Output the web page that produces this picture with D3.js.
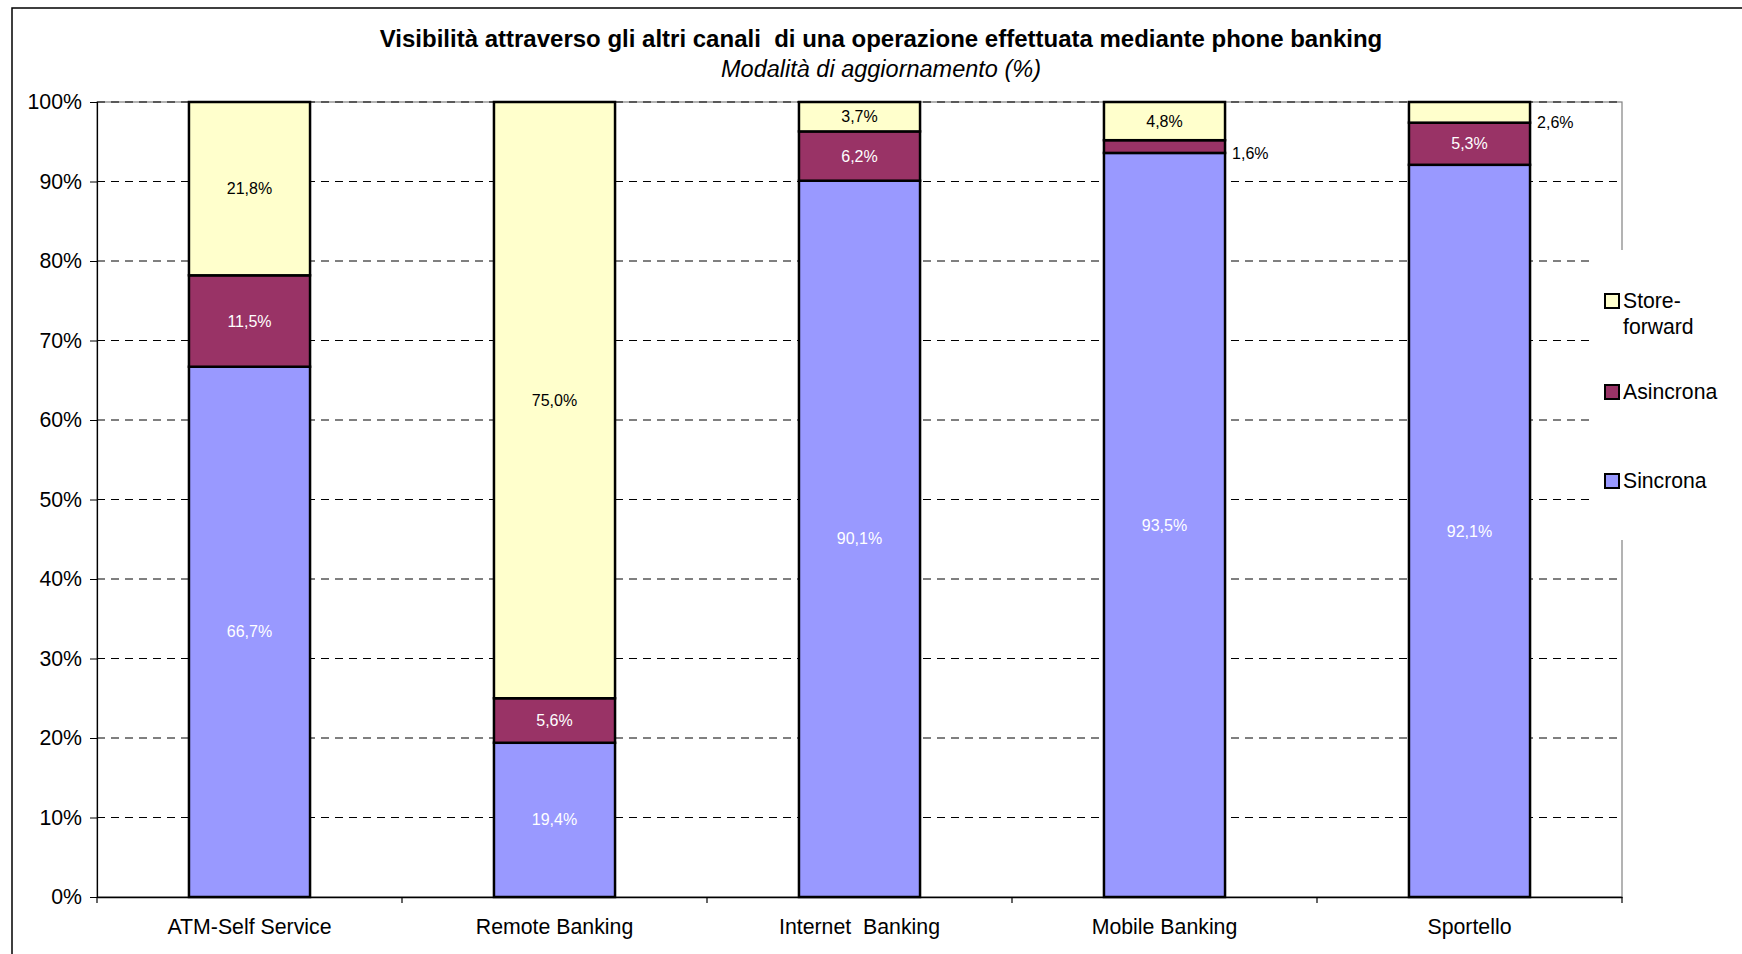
<!DOCTYPE html>
<html>
<head>
<meta charset="utf-8">
<script src="https://cdn.jsdelivr.net/npm/d3@7"></script>
<style>
  html, body { margin: 0; padding: 0; background: #fff; }
  svg { display: block; font-family: "Liberation Sans", Arial, sans-serif; }
  svg text { white-space: pre; }
</style>
</head>
<body>
<svg id="chart" width="1742" height="954"></svg>
<script>
// ---- data ----
const categories = ["ATM-Self Service", "Remote Banking", "Internet  Banking", "Mobile Banking", "Sportello"];
const seriesNames = ["Sincrona", "Asincrona", "Store-forward"];
const sincrona     = [66.7, 19.4, 90.1, 93.5, 92.1];
const asincrona    = [11.5,  5.6,  6.2,  1.6,  5.3];
const storeForward = [21.8, 75.0,  3.7,  4.8,  2.6];
const yTicks = [0, 0.1, 0.2, 0.3, 0.4, 0.5, 0.6, 0.7, 0.8, 0.9, 1.0];
const titleText = "Visibilità attraverso gli altri canali  di una operazione effettuata mediante phone banking";
const subtitleText = "Modalità di aggiornamento (%)";

const colors = { "Sincrona": "#9999FF", "Asincrona": "#993366", "Store-forward": "#FFFFCC" };
const labelColors = { "Sincrona": "#ffffff", "Asincrona": "#ffffff", "Store-forward": "#000000" };

const rows = categories.map((c, i) => ({
  cat: c, "Sincrona": sincrona[i], "Asincrona": asincrona[i], "Store-forward": storeForward[i]
}));

const svg = d3.select("#chart");
const plot = { left: 97, right: 1622, top: 102, bottom: 897 };

// outer frame
svg.append("rect").attr("x", 12).attr("y", 8).attr("width", 1800).attr("height", 1000)
  .attr("fill", "#fff").attr("stroke", "#000").attr("stroke-width", 1.5);

// title
svg.append("text").attr("x", 881).attr("y", 47).attr("text-anchor", "middle")
  .attr("font-size", 24).attr("font-weight", "bold").text(titleText);
svg.append("text").attr("x", 881).attr("y", 77).attr("text-anchor", "middle")
  .attr("font-size", 23.5).attr("font-style", "italic").text(subtitleText);

const x = d3.scaleBand().domain(categories).range([plot.left, plot.right]).paddingInner(0.603).paddingOuter(0.3015);
const xOuter = d3.scaleBand().domain(categories).range([plot.left, plot.right]);
const y = d3.scaleLinear().domain([0, 1]).range([plot.bottom, plot.top]);

// plot area border
svg.append("rect").attr("x", plot.left).attr("y", plot.top)
  .attr("width", plot.right - plot.left).attr("height", plot.bottom - plot.top)
  .attr("fill", "none").attr("stroke", "#808080").attr("stroke-width", 1.2);

// gridlines
svg.append("g").selectAll("line").data(yTicks.filter(d => d > 0)).join("line")
  .attr("x1", plot.left).attr("x2", plot.right)
  .attr("y1", d => y(d)).attr("y2", d => y(d))
  .attr("stroke", "#000").attr("stroke-width", 1).attr("stroke-dasharray", "8,6");

// stacked data (percent-normalized, as a 100% stacked chart)
const stack = d3.stack().keys(seriesNames).offset(d3.stackOffsetExpand);
const layers = stack(rows);

const fmt = v => d3.format(".1f")(v).replace(".", ",") + "%";

const g = svg.append("g");
layers.forEach(layer => {
  g.selectAll(null).data(layer).join("rect")
    .attr("x", d => x(d.data.cat))
    .attr("width", x.bandwidth())
    .attr("y", d => y(d[1]))
    .attr("height", d => y(d[0]) - y(d[1]))
    .attr("fill", colors[layer.key])
    .attr("stroke", "#000").attr("stroke-width", 2.5);
});

// labels
layers.forEach(layer => {
  layer.forEach(d => {
    const v = d.data[layer.key];
    const h = y(d[0]) - y(d[1]);
    if (h >= 24) {
      g.append("text")
        .attr("x", x(d.data.cat) + x.bandwidth() / 2)
        .attr("y", (y(d[0]) + y(d[1])) / 2)
        .attr("dy", "0.35em").attr("text-anchor", "middle")
        .attr("font-size", 16).attr("fill", labelColors[layer.key])
        .text(fmt(v));
    } else {
      g.append("text")
        .attr("x", x(d.data.cat) + x.bandwidth() + 7)
        .attr("y", y(d[0]))
        .attr("dy", "0.35em").attr("text-anchor", "start")
        .attr("font-size", 16).attr("fill", "#000")
        .text(fmt(v));
    }
  });
});

// y axis
const yAxis = d3.axisLeft(y).tickValues(yTicks).tickFormat(d3.format(".0%")).tickSize(7).tickPadding(8);
const ya = svg.append("g").attr("transform", `translate(${plot.left},0)`).call(yAxis);
ya.select(".domain").attr("stroke", "#000").attr("stroke-width", 1.2);
ya.selectAll(".tick line").attr("stroke", "#000");
ya.selectAll(".tick text").attr("font-size", 21.3).attr("fill", "#000").attr("font-family", "Liberation Sans, Arial, sans-serif");

// x axis
const xAxis = d3.axisBottom(xOuter).tickSize(0).tickPadding(22);
const xa = svg.append("g").attr("transform", `translate(0,${plot.bottom})`).call(xAxis);
xa.select(".domain").attr("stroke", "#000").attr("stroke-width", 1.5);
xa.selectAll(".tick text").attr("font-size", 21.3).attr("fill", "#000").attr("font-family", "Liberation Sans, Arial, sans-serif");
// category boundary ticks
const bounds = categories.map(c => xOuter(c)).concat([plot.right]);
xa.selectAll(".bt").data(bounds).join("line").attr("class", "bt")
  .attr("x1", d => d).attr("x2", d => d).attr("y1", 0).attr("y2", 6)
  .attr("stroke", "#000").attr("stroke-width", 1.2);

// legend
const lg = svg.append("g");
lg.append("rect").attr("x", 1591).attr("y", 250).attr("width", 150).attr("height", 290).attr("fill", "#fff");
const legendItems = [
  { key: "Store-forward", lines: ["Store-", "forward"], cy: 301 },
  { key: "Asincrona", lines: ["Asincrona"], cy: 392 },
  { key: "Sincrona", lines: ["Sincrona"], cy: 481 }
];
legendItems.forEach(it => {
  lg.append("rect").attr("x", 1605).attr("y", it.cy - 7).attr("width", 14).attr("height", 14)
    .attr("fill", colors[it.key]).attr("stroke", "#000").attr("stroke-width", 2);
  it.lines.forEach((t, i) => {
    lg.append("text").attr("x", 1623).attr("y", it.cy + i * 26).attr("dy", "0.35em")
      .attr("font-size", 21.2).attr("fill", "#000").text(t);
  });
});
</script>
</body>
</html>
